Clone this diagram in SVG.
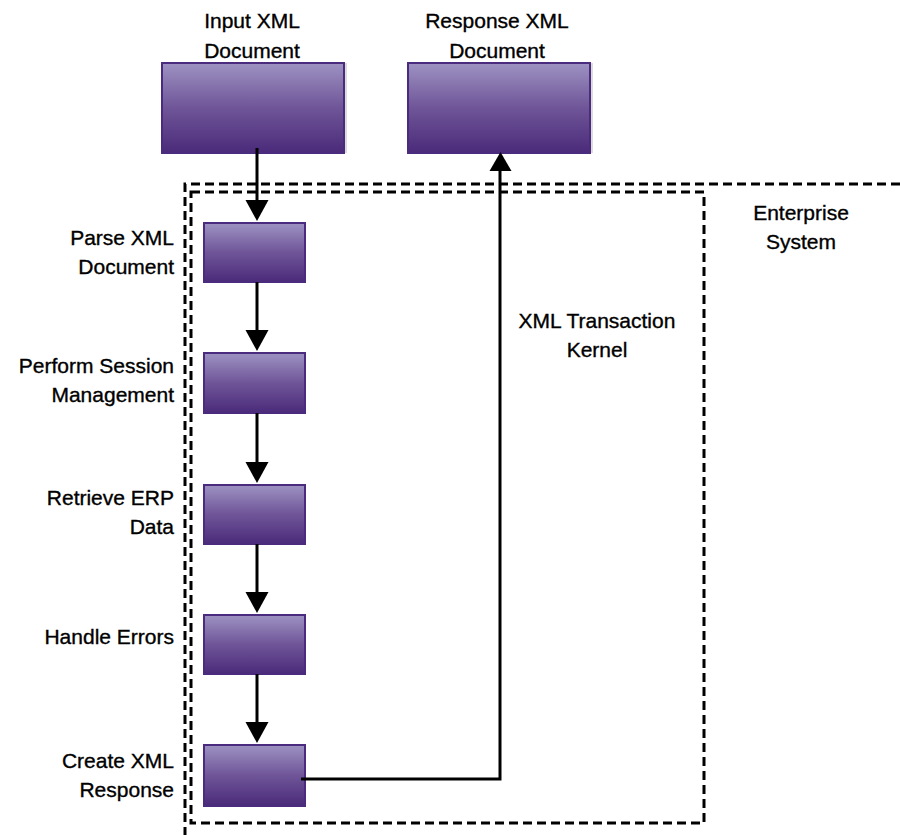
<svg xmlns="http://www.w3.org/2000/svg" width="900" height="835" viewBox="0 0 900 835">
  <defs>
    <linearGradient id="boxFill" x1="0" y1="0" x2="0" y2="1">
      <stop offset="0" stop-color="#9d92c2"/>
      <stop offset="0.5" stop-color="#6f5598"/>
      <stop offset="1" stop-color="#4a2a7a"/>
    </linearGradient>
  </defs>
  <style>
    .box { fill: url(#boxFill); stroke: #4b2b7d; stroke-width: 2; }
    .shadow { fill: #dcdcdc; }
    .lbl { font-family: "Liberation Sans", Arial, sans-serif; font-size: 21px; fill: #000; stroke: #000; stroke-width: 0.35; }
    .mid { text-anchor: middle; }
    .end { text-anchor: end; }
    .conn { stroke: #000; stroke-width: 3; fill: none; }
    .head { fill: #000; }
    .dash { stroke: #000; stroke-width: 3; fill: none; stroke-dasharray: 9 5; }
  </style>

  <rect width="900" height="835" fill="#fff"/>

  <!-- boundary frames -->
  <g id="enterprise-system">
    <path class="dash" d="M900,184 L185,184 L185,835"/>
    <text class="lbl mid" x="801" y="220">Enterprise</text>
    <text class="lbl mid" x="801" y="249">System</text>
  </g>
  <g id="transaction-kernel">
    <path class="dash" d="M191,192 L704,192 L704,823 L191,823 Z"/>
    <text class="lbl mid" x="597" y="328">XML Transaction</text>
    <text class="lbl mid" x="597" y="357">Kernel</text>
  </g>

  <!-- documents -->
  <g id="input-xml">
    <rect class="shadow" x="344" y="63" width="3" height="90"/>
    <rect class="box" x="162" y="63" width="182" height="90"/>
    <text class="lbl mid" x="252" y="28">Input XML</text>
    <text class="lbl mid" x="252" y="58">Document</text>
  </g>
  <g id="response-xml">
    <rect class="shadow" x="590" y="63" width="3" height="90"/>
    <rect class="box" x="408" y="63" width="182" height="90"/>
    <text class="lbl mid" x="497" y="28">Response XML</text>
    <text class="lbl mid" x="497" y="58">Document</text>
  </g>

  <!-- processing steps -->
  <g id="parse">
    <rect class="box" x="204" y="223" width="101" height="59"/>
    <text class="lbl end" x="174" y="245">Parse XML</text>
    <text class="lbl end" x="174" y="274">Document</text>
  </g>
  <g id="session">
    <rect class="box" x="204" y="353" width="101" height="60"/>
    <text class="lbl end" x="174" y="373">Perform Session</text>
    <text class="lbl end" x="174" y="402">Management</text>
  </g>
  <g id="retrieve">
    <rect class="box" x="204" y="485" width="101" height="59"/>
    <text class="lbl end" x="174" y="505">Retrieve ERP</text>
    <text class="lbl end" x="174" y="534">Data</text>
  </g>
  <g id="errors">
    <rect class="box" x="204" y="615" width="101" height="59"/>
    <text class="lbl end" x="174" y="644">Handle Errors</text>
  </g>
  <g id="create">
    <rect class="box" x="204" y="745" width="101" height="61"/>
    <text class="lbl end" x="174" y="768">Create XML</text>
    <text class="lbl end" x="174" y="797">Response</text>
  </g>

  <!-- connectors -->
  <g id="connectors">
    <path class="conn" d="M257,148 L257,202"/>
    <path class="head" d="M245.5,200 L268.5,200 L257,221 Z"/>
    <path class="conn" d="M257,282 L257,332"/>
    <path class="head" d="M245.5,330 L268.5,330 L257,351 Z"/>
    <path class="conn" d="M257,413 L257,464"/>
    <path class="head" d="M245.5,462 L268.5,462 L257,483 Z"/>
    <path class="conn" d="M257,544 L257,594"/>
    <path class="head" d="M245.5,592 L268.5,592 L257,613 Z"/>
    <path class="conn" d="M257,674 L257,724"/>
    <path class="head" d="M245.5,722 L268.5,722 L257,743 Z"/>
    <path class="conn" d="M301,779 L500,779 L500,168"/>
    <path class="head" d="M489.5,171 L511.5,171 L500.5,152 Z"/>
  </g>
</svg>
